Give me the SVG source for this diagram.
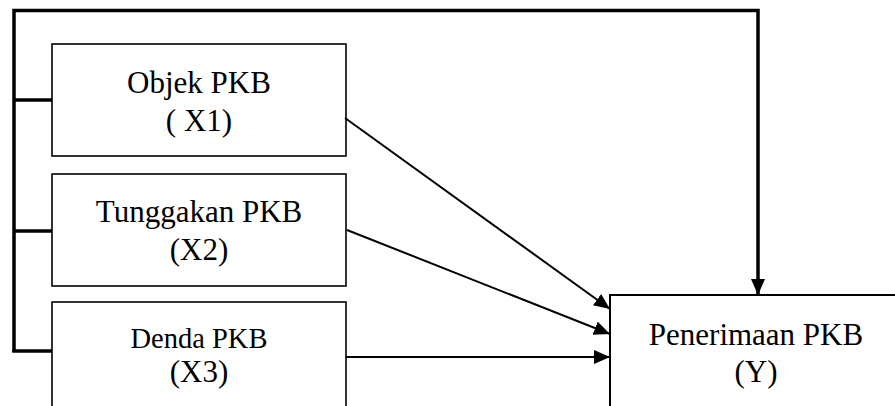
<svg xmlns="http://www.w3.org/2000/svg" width="895" height="406" viewBox="0 0 895 406">
<style>
.box{fill:#fff;stroke:#000;stroke-width:1.6}
.t{font-family:"Liberation Serif","Times New Roman",serif;font-size:31px;fill:#000;text-anchor:middle}
.thick{fill:none;stroke:#000;stroke-width:3.5}
.arr{fill:none;stroke:#000;stroke-width:2}
</style>
<defs>
<marker id="ah" markerUnits="userSpaceOnUse" markerWidth="17" markerHeight="15" refX="16" refY="7" orient="auto" viewBox="0 0 17 15">
<path d="M0,0 L16,7 L0,14 z" fill="#000"/>
</marker>
</defs>
<g id="x1">
<rect class="box" x="52" y="44" width="294" height="112"/>
<text class="t" x="199" y="93">Objek PKB</text>
<text class="t" x="199" y="131">( X1)</text>
</g>
<g id="x2">
<rect class="box" x="52" y="174" width="294" height="112"/>
<text class="t" x="199" y="222">Tunggakan PKB</text>
<text class="t" x="199" y="260">(X2)</text>
</g>
<g id="x3">
<rect class="box" x="52" y="302" width="294" height="120"/>
<text class="t" x="199" y="348" style="font-size:28.5px">Denda PKB</text>
<text class="t" x="199" y="382">(X3)</text>
</g>
<g id="y">
<rect class="box" x="610" y="295" width="300" height="130" style="stroke-width:2"/>
<text class="t" x="756" y="345">Penerimaan PKB</text>
<text class="t" x="756" y="382">(Y)</text>
</g>
<g id="connectors">
<path class="thick" d="M14,352 V10.5 H758 V282"/>
<line class="arr" x1="758" y1="280" x2="758" y2="295" marker-end="url(#ah)" style="stroke-width:3.5"/>
<line class="thick" x1="14" y1="100" x2="52" y2="100"/>
<line class="thick" x1="14" y1="231" x2="52" y2="231"/>
<line class="thick" x1="12.25" y1="351" x2="52" y2="351"/>
<line class="arr" x1="345" y1="118" x2="610" y2="309" marker-end="url(#ah)"/>
<line class="arr" x1="347" y1="230" x2="610" y2="334" marker-end="url(#ah)"/>
<line class="arr" x1="346" y1="357" x2="610" y2="357" marker-end="url(#ah)"/>
</g>
</svg>
